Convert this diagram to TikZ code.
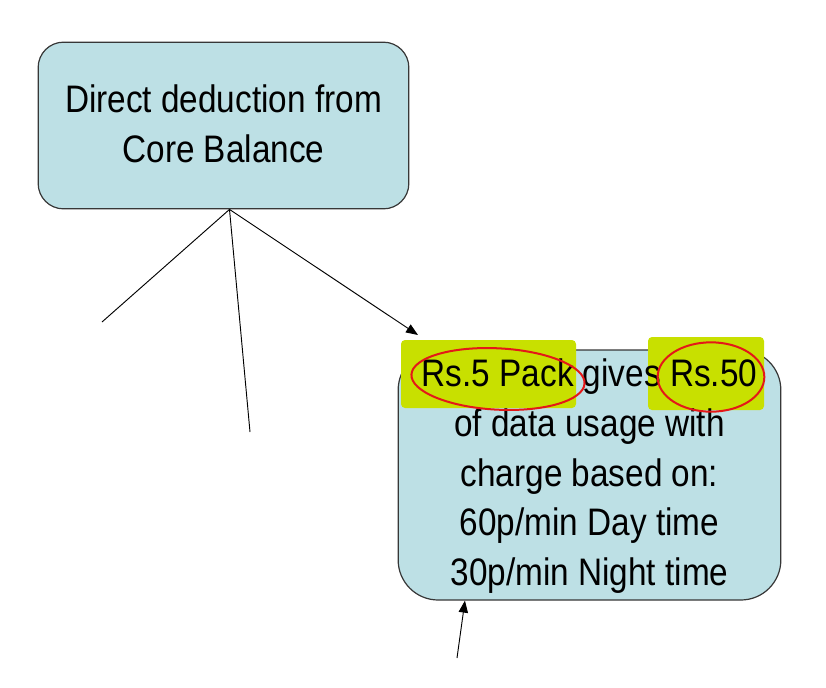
\documentclass[tikz,border=0pt]{standalone}
\usepackage{graphicx}
\usepackage{fontspec}
\setmainfont{Liberation Sans}
\definecolor{boxblue}{RGB}{189, 224, 229}
\definecolor{hiyellow}{RGB}{200, 224, 0}
\definecolor{penred}{RGB}{228, 24, 24}
\definecolor{edgegray}{RGB}{55, 55, 55}
\usetikzlibrary{arrows.meta, positioning, calc}
\pgfdeclarelayer{back}
\pgfdeclarelayer{marker}
\pgfsetlayers{back,marker,main}
\newcommand{\tallrows}[1]{\scalebox{1}[1.15]{\begin{tabular}{@{}c@{}}#1\end{tabular}}}

\begin{document}
\begin{tikzpicture}[x=0.75pt, y=-0.75pt,
  plan/.style={draw=edgegray, fill=boxblue, line width=0.9pt},
  words/.style={font=\fontsize{25}{32.4}\selectfont},
  link/.style={black, line width=0.7pt},
  tip/.style={-{Triangle[length=9pt, width=7pt]}},
  ring/.style={penred, line width=1.5pt}]
  \useasboundingbox (0,0) rectangle (826,687);

  % Core balance box
  \node[plan, words, rounded corners=19pt, minimum width=278pt, minimum height=125pt] (core) at (223.5, 125.5) {};
  \node[words] (coretext) at ([yshift=-1.5pt]core.center) {\tallrows{Direct deduction from\\Core Balance}};

  % Pack box with marker highlights behind the text
  \begin{pgfonlayer}{back}
    \node[plan, rounded corners=30pt, minimum width=287pt, minimum height=187.5pt] (packbox) at (589.5, 475) {};
  \end{pgfonlayer}
  \begin{pgfonlayer}{marker}
    \fill[hiyellow, rounded corners=3pt] (401, 340) rectangle (576, 408);
    \fill[hiyellow, rounded corners=3pt] (648, 337) rectangle (764, 410);
  \end{pgfonlayer}
  \node[words] (pack) at ([yshift=-1pt]packbox.center) {\tallrows{Rs.5 Pack gives Rs.50\\of data usage with\\charge based on:\\60p/min Day time\\30p/min Night time}};

  % Red rings
  \draw[ring, rotate around={-3:(498, 379)}] (498, 379) ellipse [x radius=65pt, y radius=23pt];
  \draw[ring] (711, 377) ellipse [x radius=40pt, y radius=26pt];

  % Connectors
  \coordinate (hub) at ([xshift=4.5pt]core.south);
  \coordinate (leftend) at (102, 322);
  \coordinate (midend) at (250, 432);
  \coordinate (aim) at (418, 335);
  \coordinate (tail) at (457, 658);
  \coordinate (foot) at ([xshift=-93.4pt]packbox.south);
  \draw[link] (hub) -- (leftend);
  \draw[link] (hub) -- (midend);
  \draw[link, tip] (hub) -- (aim);
  \draw[link, tip] (tail) -- (foot);
\end{tikzpicture}
\end{document}
